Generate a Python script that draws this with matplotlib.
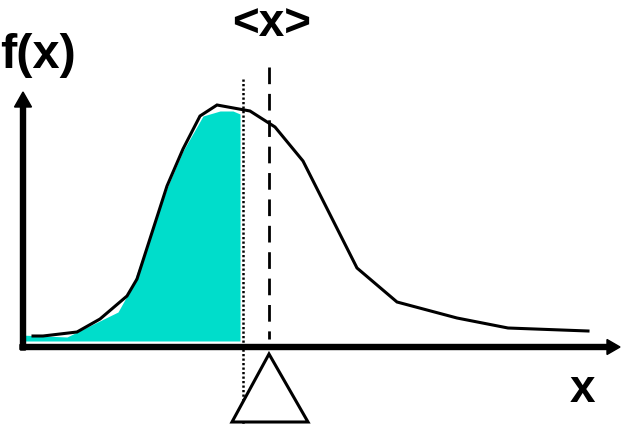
import matplotlib
matplotlib.use("Agg")
import matplotlib.pyplot as plt
from matplotlib.patches import Polygon

# distribution curve f(x) (axis units, origin at the corner of the axes)
curve_x = [10, 20, 54, 77, 104, 114, 144, 160, 177, 194, 227, 252, 280, 334, 374, 434, 485, 565]
curve_y = [11, 11, 15, 28, 51, 68, 161, 198, 231, 242, 236, 220, 186, 79, 45, 29, 19, 16]

# shaded area up to the median
fill_x = [-3, 44, 95, 109, 144, 160, 180, 197, 210, 217]
fill_top = [12, 10, 35, 60, 159, 196, 231, 236, 236, 233]
fill_base = 6

median_x = 220
mean_x = 246

# fulcrum triangle under the mean
tri_x = [246, 209, 285]
tri_y = [-7, -75, -75]

fig = plt.figure(figsize=(6.31, 4.27), dpi=100)
ax = fig.add_axes([0, 0, 1, 1])
ax.set_xlim(-23, 608)
ax.set_ylim(-79, 348)
ax.axis("off")

ax.fill_between(fill_x, fill_base, fill_top, color="#00DDCB", lw=0)
ax.plot(curve_x, curve_y, color="black", lw=2.2, solid_joinstyle="miter")

ax.plot([median_x, median_x], [268, -79], color="black", lw=1.8,
        linestyle=(0, (0.9, 0.9)), dash_capstyle="butt")
ax.plot([mean_x, mean_x], [280, 8], color="black", lw=2.0, linestyle=(0, (6, 3.5)))

ax.add_patch(Polygon(list(zip(tri_x, tri_y)), closed=True, facecolor="white",
                     edgecolor="black", lw=2.2, zorder=3))

# axes with arrow heads
ax.arrow(-3, 0, 600, 0, width=5, head_width=15, head_length=13,
         length_includes_head=True, color="black", zorder=4)
ax.arrow(0, -3, 0, 258, width=5, head_width=17, head_length=15,
         length_includes_head=True, color="black", zorder=4)

font = dict(family="Liberation Sans", weight="bold", color="black")
ax.text(-23, 293, "f(x)", fontsize=35, ha="left", va="center", **font)
ax.text(249, 324, "<x>", fontsize=33, ha="center", va="center", **font)
ax.text(559, -42, "x", fontsize=33, ha="center", va="center", **font)

fig.savefig("out.png", dpi=100)
